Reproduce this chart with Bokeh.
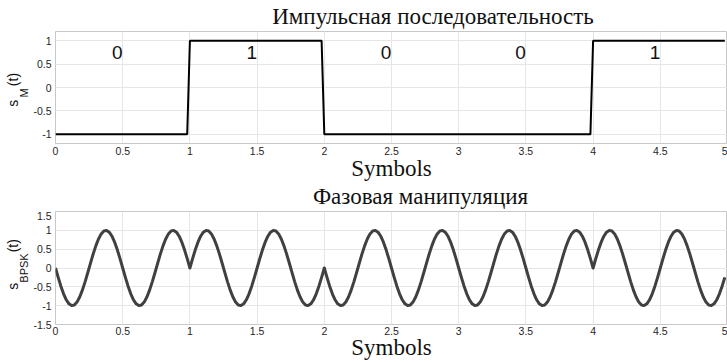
import numpy as np
from bokeh.plotting import figure
from bokeh.layouts import column, row
from bokeh.models import FixedTicker, Range1d
from bokeh.embed import file_html
from bokeh.resources import INLINE
from bokeh.core.properties import value

# ---------------- data ----------------
bits = [0, 1, 0, 0, 1]
bit_texts = ["0", "1", "0", "0", "1"]
sample_step = 0.02
# one carrier period (25 samples)
carrier_period = [0.0, 0.249, 0.482, 0.685, 0.844, 0.951, 0.998, 0.982, 0.905,
                  0.771, 0.588, 0.368, 0.125, -0.125, -0.368, -0.588, -0.771,
                  -0.905, -0.982, -0.998, -0.951, -0.844, -0.685, -0.482, -0.249]
periods_per_symbol = 2

x_ticks = [0, 0.5, 1, 1.5, 2, 2.5, 3, 3.5, 4, 4.5, 5]
x_tick_labels = ["0", "0.5", "1", "1.5", "2", "2.5", "3", "3.5", "4", "4.5", "5"]
y_ticks_top = [-1, -0.5, 0, 0.5, 1]
y_tick_labels_top = ["-1", "-0.5", "0", "0.5", "1"]
y_ticks_bot = [-1.5, -1, -0.5, 0, 0.5, 1, 1.5]
y_tick_labels_bot = ["-1.5", "-1", "-0.5", "0", "0.5", "1", "1.5"]

title_top = "Импульсная последовательность"
title_bot = "Фазовая манипуляция"
x_label = "Symbols"
ylabel_top = ["s", "M", "(t)"]
ylabel_bot = ["s", "BPSK", "(t)"]

# ---------------- derived series ----------------
samples_per_symbol = len(carrier_period) * periods_per_symbol
t = np.arange(len(bits) * samples_per_symbol) * sample_step
pulse = np.repeat([2 * b - 1 for b in bits], samples_per_symbol)
bpsk = np.concatenate([(2 * b - 1) * np.tile(carrier_period, periods_per_symbol) for b in bits])

SERIF = "Liberation Serif"
SANS = "Liberation Sans"
PAGE_W = 727
LAB_W = 30
TXT = "#111111"
SERIF_MID = 0.3375   # (ascent - descent) / 2, in em
SANS_MID = 0.3465


def strip(width, height, yr=None):
    """Plain canvas for free text (pixel x; y in pixels from top unless a range is given)."""
    s = figure(width=width, height=height, output_backend="svg", toolbar_location=None,
               x_range=Range1d(0, width), y_range=yr if yr is not None else Range1d(height, 0),
               x_axis_type=None, y_axis_type=None, min_border=0,
               title_location=None,
               outline_line_color=None, background_fill_color="white",
               border_fill_color="white")
    return s


def serif_text(s, xs, baselines, texts, size=23):
    s.text(x=xs, y=[b - SERIF_MID * size for b in baselines], text=texts,
           text_font=value(SERIF), text_font_size=f"{size}px", text_align="center",
           text_baseline="middle", text_color=TXT)


def panel(height, ylo, yhi, yt, ytl, frame_h, std, lab_std):
    p = figure(width=PAGE_W - LAB_W, height=height, output_backend="svg",
               toolbar_location=None, title_location=None,
               x_range=Range1d(0, 5), y_range=Range1d(ylo, yhi),
               min_border_left=55 - LAB_W, min_border_right=0,
               min_border_top=0, min_border_bottom=height - frame_h,
               background_fill_color="white", border_fill_color="white")
    p.outline_line_color = "#c8c8c8"
    p.outline_line_width = 1
    for ax in (p.xaxis[0], p.yaxis[0]):
        ax.axis_line_color = None
        ax.major_tick_line_color = None
        ax.minor_tick_line_color = None
        ax.major_tick_out = 0
        ax.major_tick_in = 0
        ax.minor_tick_out = 0
        ax.major_label_text_font = SANS
        ax.major_label_text_font_size = "10.5px"
        ax.major_label_text_color = "#262626"
    p.xaxis.ticker = FixedTicker(ticks=x_ticks)
    p.xaxis.major_label_overrides = {k: v for k, v in zip(x_ticks, x_tick_labels)}
    p.xaxis.major_label_standoff = std
    p.xaxis.axis_label = x_label
    p.xaxis.axis_label_text_font = SERIF
    p.xaxis.axis_label_text_font_size = "23px"
    p.xaxis.axis_label_text_font_style = "normal"
    p.xaxis.axis_label_text_color = TXT
    p.xaxis.axis_label_standoff = lab_std
    p.yaxis.ticker = FixedTicker(ticks=yt)
    p.yaxis.major_label_overrides = {k: v for k, v in zip(yt, ytl)}
    p.yaxis.major_label_standoff = 4
    p.xgrid.grid_line_color = "#e6e6e6"
    p.ygrid.grid_line_color = "#e6e6e6"
    return p


def ylab(height, ylo, yhi, texts, ys):
    # the row aligns this strip's frame with the panel frame, so y is in panel units
    s = strip(LAB_W, height, Range1d(ylo, yhi))
    sizes = [14, 11, 14]
    baselines = [17, 27, 17]
    s.text(x=[b - SANS_MID * z for b, z in zip(baselines, sizes)], y=ys, text=texts,
           angle=np.pi / 2, text_font=value(SANS),
           text_font_size=[f"{z}px" for z in sizes],
           text_align="center", text_baseline="middle", text_color=TXT)
    return s


# --- title strip (page y 0..31) ---
a = strip(PAGE_W, 31)
serif_text(a, [432.5], [23.3], [title_top])

# --- top panel (page y 31..183, frame 113 px, x label inside) ---
p1 = panel(152, -1.2, 1.2, y_ticks_top, y_tick_labels_top, 113, 3, -2)
p1.line(t, pulse, line_color="black", line_width=2)
p1.text(x=[i + 0.46 for i in range(len(bits))], y=[0.75] * len(bits), text=bit_texts,
        text_font=value(SANS), text_font_size="19px", text_align="center",
        text_baseline="middle", text_color=TXT)
l1 = ylab(152, -1.2, 1.2, ylabel_top, [-0.34, -0.117, 0.17])

# --- middle strip (page y 183..211): title of bottom panel ---
b = strip(PAGE_W, 28)
serif_text(b, [420], [21], [title_bot])

# --- bottom panel (page y 211..362, frame 114 px) ---
p2 = panel(151, -1.5, 1.5, y_ticks_bot, y_tick_labels_bot, 114, 2, -3)
p2.line(t, bpsk, line_color="#404040", line_width=3, line_join="round")
l2 = ylab(151, -1.5, 1.5, ylabel_bot, [-0.487, 0.0, 0.592])

layout = column(a, row(l1, p1), b, row(l2, p2))
open("out.html", "w").write(file_html(layout, INLINE))
